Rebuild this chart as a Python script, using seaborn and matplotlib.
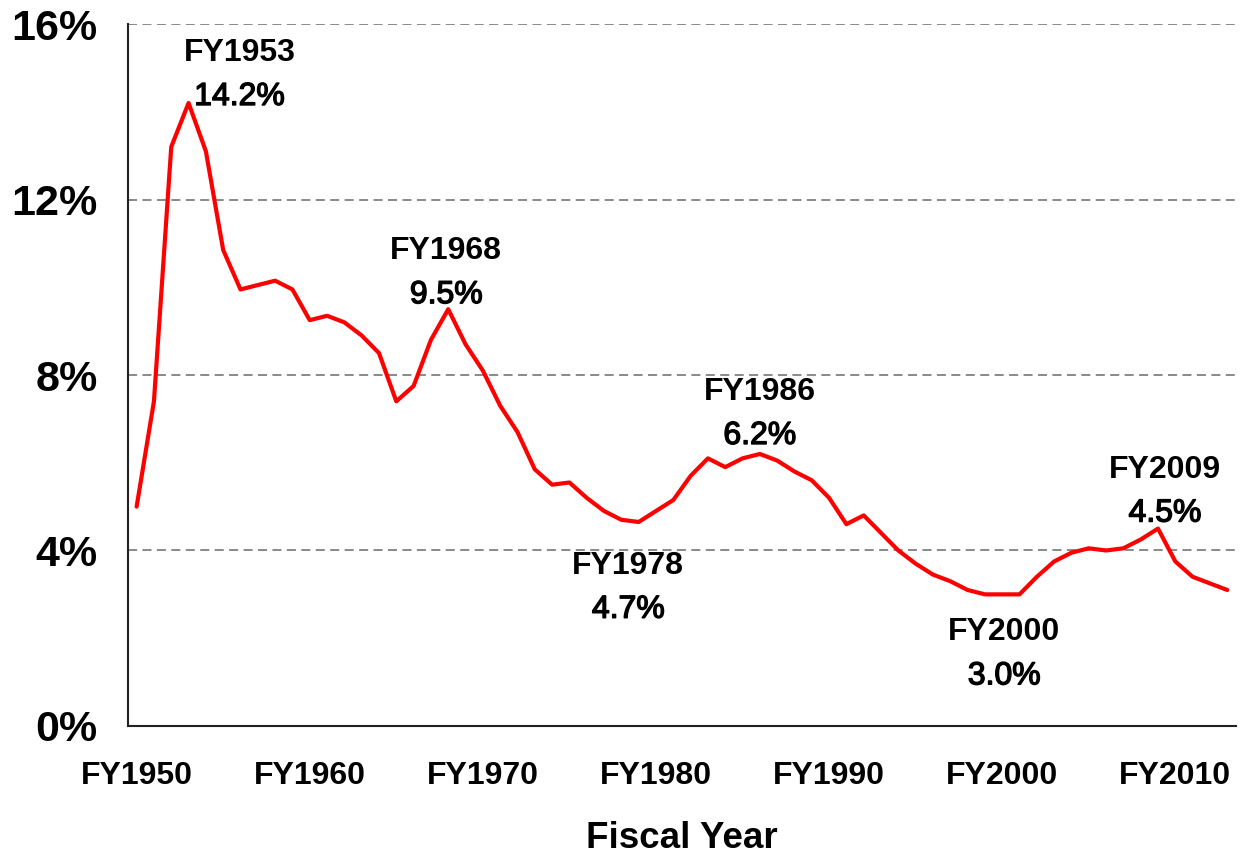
import numpy as np
import pandas as pd
import matplotlib
matplotlib.use("Agg")
import matplotlib.pyplot as plt
import matplotlib.patheffects as pe
from matplotlib.ticker import FixedLocator, FuncFormatter
import seaborn as sns

sns.set_style("white")
plt.rcParams['font.family'] = ['Liberation Sans', 'DejaVu Sans']
plt.rcParams['text.color'] = 'black'
plt.rcParams['xtick.color'] = 'black'
plt.rcParams['ytick.color'] = 'black'
plt.rcParams['axes.labelcolor'] = 'black'

# share of GDP, fiscal years 1950-2013
years = list(range(1950, 2014))
share = [5.0, 7.4, 13.2, 14.2, 13.1, 10.85, 9.95, 10.05, 10.15, 9.95,
         9.25, 9.35, 9.2, 8.9, 8.5, 7.4, 7.75, 8.8, 9.5, 8.7,
         8.1, 7.3, 6.7, 5.85, 5.5, 5.55, 5.2, 4.9, 4.7, 4.65,
         4.9, 5.15, 5.7, 6.1, 5.9, 6.1, 6.2, 6.05, 5.8, 5.6,
         5.2, 4.6, 4.8, 4.4, 4.0, 3.7, 3.45, 3.3, 3.1, 3.0,
         3.0, 3.0, 3.4, 3.75, 3.95, 4.05, 4.0, 4.05, 4.25, 4.5,
         3.75, 3.4, 3.25, 3.1]

label_years = [1950, 1960, 1970, 1980, 1990, 2000, 2010]
y_ticks = [0, 4, 8, 12, 16]

# annotated points and offsets of the text block centre (pixels)
note_years = [1953, 1968, 1978, 1986, 2000, 2009]
note_offsets = [(51, 28), (-2, 36), (7, -68), (0, 40), (2, -60), (7, 37)]
line_gap = 22

df = pd.DataFrame({'year': years, 'share': share})

fig = plt.figure(figsize=(12.4, 8.55), dpi=100)
ax = fig.add_axes([0.1032, 0.1509, 0.8935, 0.821])

sns.lineplot(data=df, x='year', y='share', color='#ff0000', linewidth=3, ax=ax)

ax.set_xlim(years[0] - 0.5, years[-1] + 0.5)
ax.set_ylim(0, 16)

# x axis: labels at decades, tick marks between years
ax.set_xticks(label_years)
ax.set_xticklabels([f'FY{y}' for y in label_years])
ax.xaxis.set_minor_locator(FixedLocator(np.arange(years[0] - 0.5, years[-1] + 1, 1)))
ax.tick_params(axis='x', which='major', length=0, pad=25, labelsize=23)
ax.tick_params(axis='x', which='minor', length=9.5, width=1.5, color='#222222', direction='out')

ax.set_yticks(y_ticks)
ax.yaxis.set_major_formatter(FuncFormatter(lambda v, p: f'{v:.0f}%'))
ax.tick_params(axis='y', length=10, width=1.5, color='#222222', direction='out', labelsize=31, pad=12)
for lab in ax.get_xticklabels() + ax.get_yticklabels():
    lab.set_fontweight('bold')

ax.yaxis.grid(True, linestyle=(0, (5, 3)), color='#808080', linewidth=1.3)
ax.xaxis.grid(False)
sns.despine(ax=ax)
for side in ['left', 'bottom']:
    ax.spines[side].set_color('#222222')
    ax.spines[side].set_linewidth(1.5)

ax.set_xlabel('Fiscal Year', fontsize=26.5, fontweight='bold', labelpad=22)
ax.set_ylabel('')

# percentages are a touch heavier than plain regular in the original
thicken = [pe.withStroke(linewidth=1.0, foreground='black')]
for yr, (dx, dy) in zip(note_years, note_offsets):
    val = df.loc[df['year'] == yr, 'share'].iloc[0]
    ax.annotate(f'FY{yr}', xy=(yr, val), xytext=(dx, dy + line_gap),
                textcoords='offset pixels', ha='center', va='center',
                fontsize=23, fontweight='bold')
    ax.annotate(f'{val:.1f}%', xy=(yr, val), xytext=(dx, dy - line_gap),
                textcoords='offset pixels', ha='center', va='center',
                fontsize=23, path_effects=thicken)

fig.savefig('out.png', dpi=100)
